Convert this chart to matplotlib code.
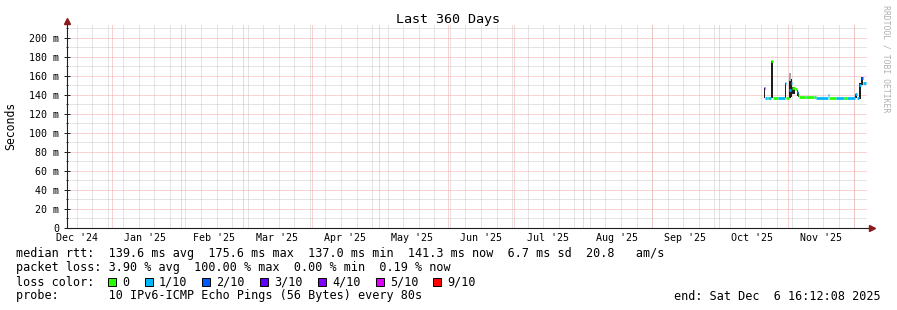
import numpy as np
import matplotlib.pyplot as plt
import matplotlib.dates as mdates
from matplotlib.patches import Rectangle
from matplotlib.ticker import MultipleLocator

plt.rcParams['font.family'] = ['DejaVu Sans Mono']
plt.rcParams['figure.dpi'] = 100

W, H = 897, 310
start = np.datetime64('2024-12-11T16:12:08')
span_days = 360

# samples: days after start, median rtt (ms), loss level, smoke range (ms)
days      = [313.5, 314.0, 315.0, 315.6, 316.6, 317.5, 319.9, 322.9, 323.7, 325.1,
             325.8, 326.4, 327.5, 328.3, 328.9, 329.5, 332.0, 332.6, 335.5, 336.0,
             337.0, 342.4, 343.0, 346.2, 349.5, 351.0, 354.5, 355.3, 356.6, 357.3,
             358.0]
median    = [147.0, 137.0, 137.0, 137.0, 175.6, 137.0, 137.0, 152.0, 137.0, 145.0,
             153.0, 147.5, 146.5, 143.0, 140.0, 138.0, 138.0, 138.0, 138.0, 137.5,
             137.0, 140.0, 137.0, 137.0, 137.0, 137.0, 140.5, 137.0, 150.0, 157.5,
             152.0]
loss      = [4, 1, 0, 1, 0, 0, 1, 1, 0, 1,
             1, 0, 0, 1, 0, 0, 1, 0, 1, 0,
             1, 1, 0, 1, 0, 1, 1, 1, 1, 2,
             1]
smoke_lo  = [137, 0, 0, 0, 137, 0, 0, 137, 0, 137,
             138, 141, 0, 139, 138, 0, 0, 0, 0, 0,
             0, 0, 0, 0, 0, 0, 137, 0, 136, 150,
             0]
smoke_hi  = [147, 0, 0, 0, 176, 0, 0, 153, 0, 155,
             157, 148, 0, 145, 143, 0, 0, 0, 0, 0,
             0, 0, 0, 0, 0, 0, 141, 0, 152, 159,
             0]
smoke_top = [0, 0, 0, 0, 0, 0, 0, 0, 0, 163,
             0, 0, 0, 0, 0, 0, 0, 0, 0, 0,
             0, 0, 0, 0, 0, 0, 0, 0, 0, 0,
             0]
data_end = 359.6

loss_labels = ['0', '1/10', '2/10', '3/10', '4/10', '5/10', '9/10']
loss_colors = ['#26ff00', '#00b8ff', '#0059ff', '#5e00ff', '#7e00ff', '#dd00ff', '#ff0000']

month_starts = ['2024-12-01', '2025-01-01', '2025-02-01', '2025-03-01', '2025-04-01',
                '2025-05-01', '2025-06-01', '2025-07-01', '2025-08-01', '2025-09-01',
                '2025-10-01', '2025-11-01', '2025-12-01']
month_labels = ["Dec '24", "Jan '25", "Feb '25", "Mar '25", "Apr '25", "May '25",
                "Jun '25", "Jul '25", "Aug '25", "Sep '25", "Oct '25", "Nov '25"]

rtt_line = "median rtt:  139.6 ms avg  175.6 ms max  137.0 ms min  141.3 ms now  6.7 ms sd  20.8   am/s"
pl_line = "packet loss: 3.90 % avg  100.00 % max  0.00 % min  0.19 % now"
probe_line = "probe:       10 IPv6-ICMP Echo Pings (56 Bytes) every 80s"
end_line = "end: Sat Dec  6 16:12:08 2025"


def to_num(d):
    return mdates.date2num(start + np.timedelta64(int(round(d * 86400)), 's'))


def px(x, y):
    return x / W, 1 - y / H


fig = plt.figure(figsize=(W / 100, H / 100), dpi=100)
fig.patch.set_facecolor('white')
ax = fig.add_axes([67 / W, 82 / H, 800 / W, 203 / H])
ax.set_facecolor('white')

x0, x1 = to_num(0), to_num(span_days)
ax.set_xlim(x0, x1)

# grid (1px dotted, like rrdtool)
grid_c = '#cbcbcb'
mgrid_c = '#f4a8a8'
gkw = dict(lw=0.72, ls=(0, (1, 1)))
mondays = np.arange(np.datetime64('2024-12-16'), start + np.timedelta64(span_days, 'D'), np.timedelta64(7, 'D'))
for m in mondays:
    ax.axvline(mdates.date2num(m), color=grid_c, zorder=0, **gkw)
for v in range(10, 211, 10):
    if v % 20:
        ax.axhline(v, color=grid_c, zorder=0, **gkw)
month_nums = [mdates.date2num(np.datetime64(m)) for m in month_starts]
for m in month_nums:
    if x0 < m < x1:
        ax.axvline(m, color=mgrid_c, zorder=0.5, **gkw)
for v in range(20, 201, 20):
    ax.axhline(v, color=mgrid_c, zorder=0.5, **gkw)

# smoke and median
ends = days[1:] + [data_end]
for i in range(len(days)):
    a, b = to_num(days[i]), to_num(ends[i])
    if smoke_top[i]:
        ax.fill_between([a, b], smoke_hi[i], smoke_top[i], color='#a8a8a8', lw=0, zorder=2)
    if smoke_hi[i]:
        ax.fill_between([a, b], smoke_lo[i], smoke_hi[i], color='#1e1e1e', lw=0, zorder=2)
for i in range(len(days)):
    a, b = to_num(days[i]), to_num(ends[i])
    ax.hlines(median[i], a, b, colors=loss_colors[loss[i]], lw=2.0, zorder=3)

# axes
for s in ['top', 'right']:
    ax.spines[s].set_visible(False)
for s in ['left', 'bottom']:
    ax.spines[s].set_color('#202020')
    ax.spines[s].set_linewidth(0.8)
    ax.spines[s].set_zorder(4)
ax.plot([1.0, 1.006], [0, 0], color='#202020', lw=0.8, transform=ax.transAxes, clip_on=False)
ax.plot([1.006], [0], marker='>', color='#8b1a1a', ms=4, transform=ax.transAxes, clip_on=False)
ax.plot([0, 0], [1.0, 1.012], color='#202020', lw=0.8, transform=ax.transAxes, clip_on=False)
ax.plot([0], [1.018], marker='^', color='#8b1a1a', ms=4, transform=ax.transAxes, clip_on=False)

yt = list(range(0, 201, 20))
ax.set_yticks(yt)
ax.set_yticklabels([f'{v} m' if v else '0' for v in yt], fontsize=7.2)
ax.yaxis.set_minor_locator(MultipleLocator(10))
ax.set_xticks([m for m in month_nums if x0 < m < x1])
ax.set_xticks(mdates.date2num(mondays), minor=True)
ax.set_xticklabels([])
ax.tick_params(axis='y', which='major', direction='inout', length=4, width=0.7, color='#202020', pad=3.6)
ax.tick_params(axis='y', which='minor', direction='inout', length=2, width=0.7, color='#202020')
ax.tick_params(axis='x', which='both', length=0)
ax.set_ylim(0, 213.5)

for i, lab in enumerate(month_labels):
    mid = mdates.date2num(np.datetime64(month_starts[i]) + np.timedelta64(15, 'D'))
    ax.annotate(lab, xy=(mid, 0), xycoords=('data', 'axes fraction'), xytext=(0, -7.2),
                textcoords='offset points', ha='center', va='center', fontsize=7.2, annotation_clip=False)

# titles
fig.text(*px(448, 19), 'Last 360 Days', ha='center', va='center', fontsize=9.6)
fig.text(*px(11, 126), 'Seconds', ha='center', va='center', rotation=90, fontsize=8.3)
fig.text(*px(886, 59), 'RRDTOOL / TOBI OETIKER', ha='center', va='center', rotation=270,
         fontsize=5.9, color='#b0b0b0')

# legend text
fs = 8.5
fig.text(*px(16, 254), rtt_line, ha='left', va='center', fontsize=fs)
fig.text(*px(16, 268), pl_line, ha='left', va='center', fontsize=fs)
fig.text(*px(16, 282), 'loss color:', ha='left', va='center', fontsize=fs)
fig.text(*px(16, 296), probe_line, ha='left', va='center', fontsize=fs)
fig.text(*px(881, 296), end_line, ha='right', va='center', fontsize=fs)

cw = 7.1
bx = 108.0
for lab, col in zip(loss_labels, loss_colors):
    fx, fy = px(bx, 286)
    fig.patches.append(Rectangle((fx, fy), 8 / W, 8 / H, transform=fig.transFigure,
                                 facecolor=col, edgecolor='black', lw=0.7))
    fig.text(*px(bx + 14, 282), lab, ha='left', va='center', fontsize=fs)
    bx = bx + 14 + len(lab) * cw + 15.4

fig.savefig('out.png', dpi=100, facecolor='white')
